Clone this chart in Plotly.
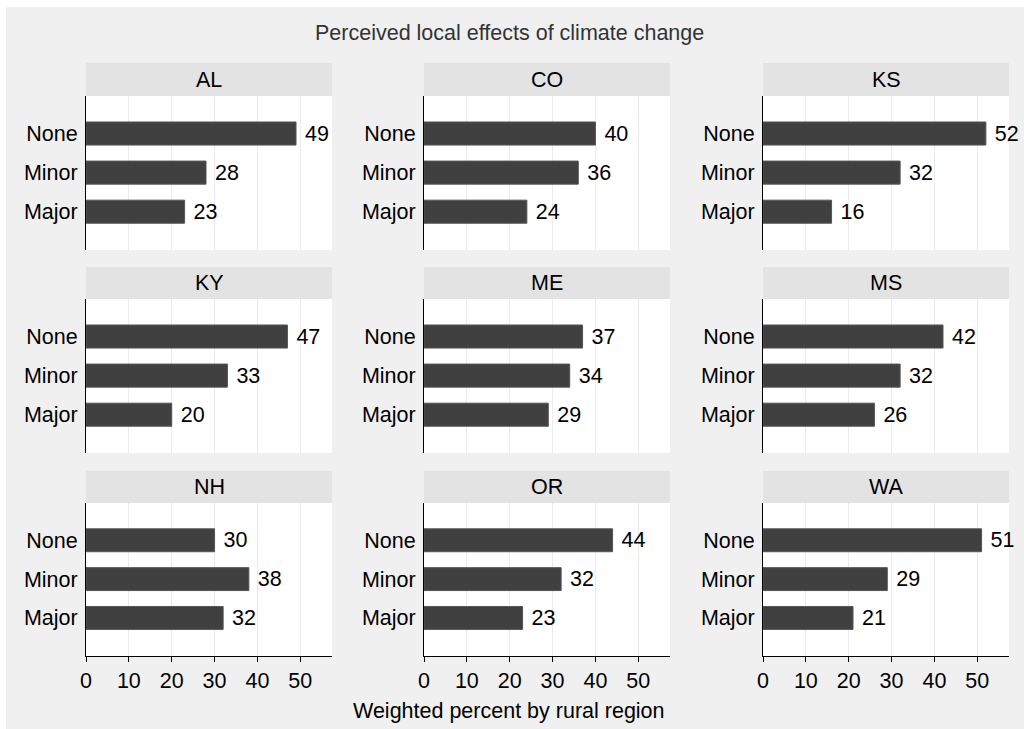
import plotly.graph_objects as go

states = ["AL", "CO", "KS", "KY", "ME", "MS", "NH", "OR", "WA"]
categories = ["None", "Minor", "Major"]
none_vals = [49, 40, 52, 47, 37, 42, 30, 44, 51]
minor_vals = [28, 36, 32, 33, 34, 32, 38, 32, 29]
major_vals = [23, 24, 16, 20, 29, 26, 32, 23, 21]
x_ticks = [0, 10, 20, 30, 40, 50]

W, H = 1024, 729
FONT = "Liberation Sans, Arial, Helvetica, sans-serif"
FS = 21.5
col_px = [(86, 332), (424, 670), (763, 1009)]
row_plot_px = [(96, 250), (299, 453), (503, 656)]
row_strip_px = [(63, 96), (267, 299), (471, 503)]


def fx(p):
    return p / W


def fy(p):
    return 1 - p / H


fig = go.Figure()
layout = dict(
    width=W, height=H, margin=dict(l=0, r=0, t=0, b=0),
    paper_bgcolor="#f0f0f0", plot_bgcolor="white",
    showlegend=False, bargap=0.41,
    font=dict(family=FONT, size=FS, color="black"),
)
shapes = []
annotations = []

for i, st in enumerate(states):
    r, c = divmod(i, 3)
    n = i + 1
    xa = "x" if n == 1 else f"x{n}"
    ya = "y" if n == 1 else f"y{n}"
    vals = [none_vals[i], minor_vals[i], major_vals[i]]
    fig.add_trace(go.Bar(
        x=vals, y=categories, orientation="h", xaxis=xa, yaxis=ya,
        marker=dict(color="#404040", line=dict(width=1, color="#555555")),
        text=vals, texttemplate="\u00a0%{x}", textposition="outside",
        textfont=dict(size=FS, color="black", family=FONT),
        constraintext="none", cliponaxis=False, hoverinfo="skip",
    ))
    x0, x1 = col_px[c]
    py0, py1 = row_plot_px[r]
    bottom = r == 2
    layout["xaxis" if n == 1 else f"xaxis{n}"] = dict(
        domain=[fx(x0), fx(x1)], anchor=ya,
        range=[0, 57.4], tickvals=x_ticks,
        showgrid=True, gridcolor="#ebebeb", gridwidth=1, zeroline=False,
        showline=bottom, linecolor="black", linewidth=1,
        ticks="outside" if bottom else "", ticklen=5, tickcolor="black",
        showticklabels=bottom, tickfont=dict(size=FS, color="black"),
        automargin=False,
    )
    layout["yaxis" if n == 1 else f"yaxis{n}"] = dict(
        domain=[fy(py1), fy(py0)], anchor=xa,
        categoryorder="array", categoryarray=categories,
        range=[2.98, -0.96], showgrid=False, zeroline=False,
        showline=True, linecolor="black", linewidth=1,
        ticks="", ticklabelstandoff=3, tickfont=dict(size=FS, color="black"),
        automargin=False,
    )
    sy0, sy1 = row_strip_px[r]
    shapes.append(dict(type="rect", xref="paper", yref="paper",
                       x0=fx(x0), x1=fx(x1), y0=fy(sy1), y1=fy(sy0),
                       fillcolor="#e3e3e3", line=dict(width=0), layer="below"))
    annotations.append(dict(text=st, xref="paper", yref="paper",
                            x=fx((x0 + x1) / 2), y=fy((sy0 + sy1) / 2),
                            xanchor="center", yanchor="middle", showarrow=False,
                            font=dict(size=FS, color="black", family=FONT)))

# thin white outer border (top and left)
shapes.append(dict(type="rect", xref="paper", yref="paper", x0=0, x1=1,
                   y0=fy(7), y1=1, fillcolor="white", line=dict(width=0)))
shapes.append(dict(type="rect", xref="paper", yref="paper", x0=0, x1=fx(6),
                   y0=0, y1=1, fillcolor="white", line=dict(width=0)))

annotations.append(dict(text="Perceived local effects of climate change",
                        xref="paper", yref="paper", x=fx(509), y=fy(33),
                        xanchor="center", yanchor="middle", showarrow=False,
                        font=dict(size=FS, color="#333333", family=FONT)))
annotations.append(dict(text="Weighted percent by rural region",
                        xref="paper", yref="paper", x=fx(509), y=fy(711),
                        xanchor="center", yanchor="middle", showarrow=False,
                        font=dict(size=FS, color="black", family=FONT)))

layout["shapes"] = shapes
layout["annotations"] = annotations
fig.update_layout(**layout)
fig.write_html(
    "out.html",
    config={"displayModeBar": False},
    post_script="document.body.style.margin='0';document.body.style.overflow='hidden';",
)
